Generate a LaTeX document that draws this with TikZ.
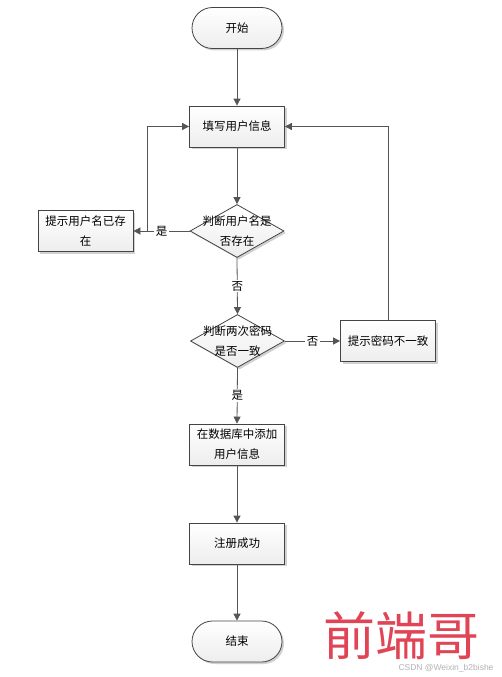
\documentclass[tikz,border=0pt]{standalone}
\usepackage{fontspec}
\setmainfont{Liberation Sans}
\newfontfamily\cjk{Noto Sans CJK SC}
\usetikzlibrary{shapes.geometric,shapes.misc,arrows.meta,shadows,calc}
\definecolor{linec}{HTML}{555555}
\definecolor{borderc}{HTML}{444444}
\definecolor{wmred}{HTML}{E04455}
\begin{document}
\begin{tikzpicture}[x=1pt,y=-1pt,
  font=\cjk\fontsize{11.5}{20}\selectfont,
  boxbase/.style={draw=borderc,line width=0.8pt,top color=white,bottom color=gray!14,
    drop shadow={shadow xshift=2pt,shadow yshift=-2pt,fill=gray!45,opacity=0.8}},
  procbox/.style={boxbase,rectangle,minimum width=95pt,minimum height=41pt,inner sep=2pt,align=center},
  termbox/.style={boxbase,rounded rectangle,minimum width=94pt,minimum height=41pt,inner sep=2pt},
  decbox/.style={boxbase,diamond,minimum width=94pt,minimum height=53pt,inner sep=0pt},
  dectext/.style={align=center,inner sep=0pt},
  conn/.style={draw=linec,line width=0.8pt,-{Triangle[length=7pt,width=7pt]}},
  lbl/.style={fill=white,inner sep=1.5pt}]
\useasboundingbox (0,0) rectangle (502,677);
\fill[white] (0,0) rectangle (502,677);

\node[termbox] (start) at (237,28) {开始};
\node[procbox] (fill) at (237,126.5) {填写用户信息};
\node[decbox] (d1) at (237,231) {};
\node[dectext] (d1t) at (237,231) {判断用户名是\\否存在};
\node[procbox] (tip1) at (85.5,231) {提示用户名已存\\在};
\node[decbox] (d2) at (237.5,341) {};
\node[dectext] (d2t) at (237.5,341) {判断两次密码\\是否一致};
\node[procbox] (tip2) at (388,341) {提示密码不一致};
\node[procbox] (db) at (237,444.5) {在数据库中添加\\用户信息};
\node[procbox] (ok) at (237,543.5) {注册成功};
\node[termbox] (end) at (237,641.5) {结束};

\coordinate (j1) at (147,231);

\draw[conn] (start.south) -- (fill.north);
\draw[conn] (fill.south) -- (d1.north);
\draw[conn] (d1.west) -- node[lbl] (l1) {是} (tip1.east);
\draw[conn] (j1) |- (fill.west);
\draw[conn] (d1.south) -- node[lbl] (l2) {否} (d2.north);
\draw[conn] (d2.east) -- node[lbl] (l3) {否} (tip2.west);
\draw[conn] (tip2.north) |- (fill.east);
\draw[conn] (d2.south) -- node[lbl] (l4) {是} (db.north);
\draw[conn] (db.south) -- (ok.north);
\draw[conn] (ok.south) -- (end.north);

\node[text=wmred,font=\cjk\fontsize{52}{52}\selectfont,inner sep=0pt,text depth=0pt,anchor=base] (wm) at (401,655) {前端哥};
\node[text=gray!60,font=\fontsize{8.5}{9}\selectfont,inner sep=0pt] (wm2) at (446,668.5) {CSDN @Weixin\_b2bishe};
\end{tikzpicture}
\end{document}
